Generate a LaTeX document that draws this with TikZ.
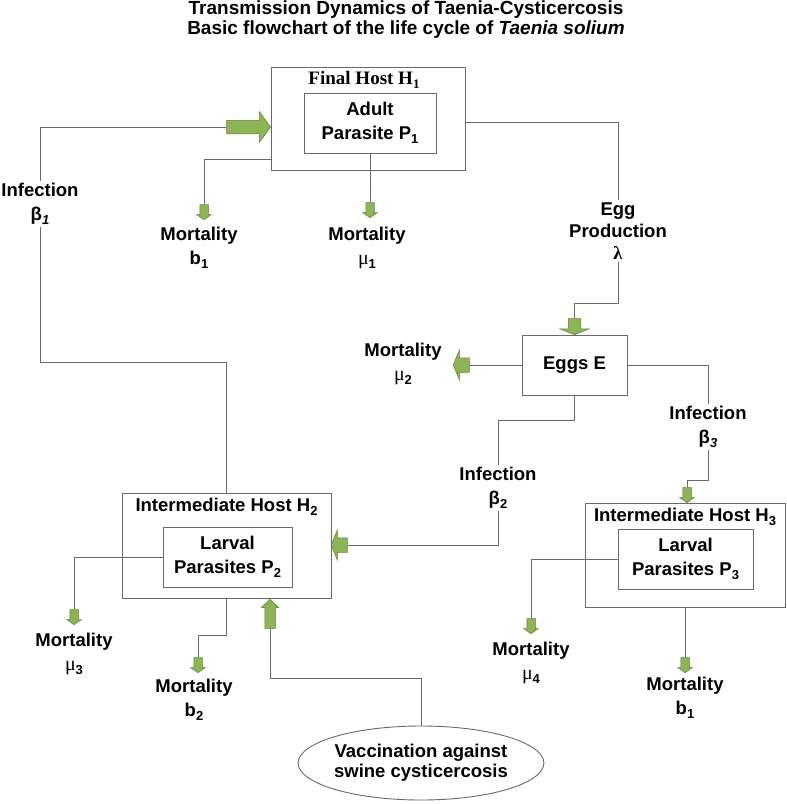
\documentclass[tikz,border=0pt]{standalone}
\usepackage{fontspec}
\setmainfont{Liberation Sans}
\newfontfamily\hostfont{Liberation Serif}
\usetikzlibrary{shapes.arrows,shapes.geometric,positioning}

\definecolor{leafgreen}{RGB}{141,180,86}
\definecolor{leafedge}{RGB}{92,128,48}
\definecolor{wire}{RGB}{105,105,105}
\newcommand{\lowidx}[1]{\raisebox{-0.45ex}{\fontsize{13}{13}\selectfont #1}}
\newcommand{\muchar}{{\hostfont\mdseries\fontsize{20}{20}\selectfont μ}}

\tikzset{
    box/.style={draw=wire, line width=0.9pt, fill=white, align=center, inner sep=0pt},
    lbl/.style={align=center, inner sep=2pt},
    blockarr/.style={single arrow, draw=leafedge, fill=leafgreen, line width=0.5pt, single arrow head indent=0pt},
    smallarr/.style={blockarr, inner xsep=4pt, inner ysep=0pt, single arrow head extend=3pt, minimum height=15pt, single arrow tip angle=110, shape border rotate=270},
    flatarr/.style={blockarr, inner xsep=0pt, inner ysep=7pt, single arrow head extend=8pt, minimum height=16pt, single arrow tip angle=136, shape border rotate=180},
}

\begin{document}
\begin{tikzpicture}[x=1pt, y=-1pt, font=\bfseries\fontsize{18.5}{24}\selectfont]
    \useasboundingbox (0,0) rectangle (787,804);
    \node[align=center, font=\bfseries\fontsize{19}{20}\selectfont] (title) at (406,20) {Transmission Dynamics of Taenia-Cysticercosis\\Basic flowchart of the life cycle of \textit{Taenia solium}};
    % final host
    \node[box, minimum width=194pt, minimum height=103pt] (host1) at (368,118.5) {};
    \node[anchor=north, font=\hostfont\bfseries\fontsize{19}{20}\selectfont] at ([xshift=-4pt, yshift=-1pt]host1.north) {Final Host H\lowidx{1}};
    \node[box, minimum width=132pt, minimum height=60pt] (par1) at (370,123) {Adult\\Parasite P\lowidx{1}};
    % eggs
    \node[box, minimum width=105pt, minimum height=60pt] (eggs) at (574.5,365) {Eggs E};
    % intermediate hosts
    \node[box, minimum width=209pt, minimum height=105pt] (host2) at (226.5,545.5) {};
    \node[anchor=north] at ([yshift=-2pt]host2.north) {Intermediate Host H\lowidx{2}};
    \node[box, minimum width=129pt, minimum height=60pt] (par2) at (227.5,557) {Larval\\Parasites P\lowidx{2}};
    \node[box, minimum width=200pt, minimum height=104pt] (host3) at (685,555) {};
    \node[anchor=north] at ([yshift=-2pt]host3.north) {Intermediate Host H\lowidx{3}};
    \node[box, minimum width=135pt, minimum height=60pt] (par3) at (685.5,559) {Larval\\Parasites P\lowidx{3}};
    \node[draw=wire, line width=0.9pt, ellipse, minimum width=240pt, minimum height=74pt, inner sep=0pt, align=center, font=\bfseries\fontsize{18.5}{20}\selectfont] (vacc) at (421,763) {Vaccination against\\swine cysticercosis};
    % labels
    \node[lbl] (inf1) at (40,204) {Infection\\β\lowidx{\itshape 1}};
    \node[lbl] (mb1lbl) at (199,248) {Mortality\\b\lowidx{1}};
    \node[lbl] (mu1lbl) at (367,248) {Mortality\\\muchar\lowidx{1}};
    \node[lbl, font=\bfseries\fontsize{18.5}{22}\selectfont] (egglbl) at (618,231) {Egg\\Production\\{\hostfont\bfseries λ}};
    \node[lbl] (mu2lbl) at (403,364) {Mortality\\\muchar\lowidx{2}};
    \node[lbl] (inf3lbl) at (708,427) {Infection\\β\lowidx{\itshape 3}};
    \node[lbl] (inf2lbl) at (498,488) {Infection\\β\lowidx{2}};
    \node[lbl] (mu3lbl) at (74,654) {Mortality\\\muchar\lowidx{3}};
    \node[lbl] (mb2lbl) at (194,700) {Mortality\\b\lowidx{2}};
    \node[lbl] (mu4lbl) at (531,663) {Mortality\\\muchar\lowidx{4}};
    \node[lbl] (mb3lbl) at (685,698) {Mortality\\b\lowidx{1}};
    % green arrows
    \node[blockarr, inner xsep=0pt, inner ysep=6.5pt, single arrow head extend=8.5pt, minimum height=44pt, single arrow tip angle=107, anchor=tip] (inarr) at (271,127) {};
    \node[smallarr, anchor=tip] (mb1arr) at (204,220) {};
    \node[smallarr, anchor=tip] (mu1arr) at (370,218) {};
    \node[flatarr, inner xsep=6pt, inner ysep=0pt, shape border rotate=270, anchor=tip] (eggin) at (574.5,335) {};
    \node[flatarr, anchor=tip] (mu2arr) at (453,365) {};
    \node[smallarr, anchor=tip] (h3in) at (687,503) {};
    \node[smallarr, anchor=tip] (mu4arr) at (531,634) {};
    \node[smallarr, anchor=tip] (mb3arr) at (685,673) {};
    \node[flatarr, anchor=tip] (h2in) at (331,545) {};
    \node[smallarr, anchor=tip] (mu3arr) at (74,625) {};
    \node[smallarr, anchor=tip] (mb2arr) at (198,673) {};
    \node[blockarr, inner xsep=5pt, inner ysep=0pt, single arrow head extend=3.5pt, minimum height=29pt, single arrow tip angle=93, shape border rotate=90, anchor=tip] (vacarr) at (270,599) {};
    % connectors
    \draw[wire, line width=0.9pt] (inf1.north) |- (inarr.tail);
    \draw[wire, line width=0.9pt] (inf1.south) -- (inf1.south |- 0,362) -| (host2.north);
    \draw[wire, line width=0.9pt] (host1.west |- 0,159) -| (mb1arr.tail);
    \draw[wire, line width=0.9pt] (par1.south) -- (mu1arr.tail);
    \draw[wire, line width=0.9pt] (host1.east |- 0,122) -| (egglbl.north);
    \draw[wire, line width=0.9pt] (egglbl.south) |- (eggin.tail |- 0,303) -- (eggin.tail);
    \draw[wire, line width=0.9pt] (eggs.west) -- (mu2arr.tail);
    \draw[wire, line width=0.9pt] (eggs.east) -| (inf3lbl.north);
    \draw[wire, line width=0.9pt] (inf3lbl.south) |- (h3in.tail |- 0,480) -- (h3in.tail);
    \draw[wire, line width=0.9pt] (eggs.south) |- (inf2lbl.north |- 0,420) -- (inf2lbl.north);
    \draw[wire, line width=0.9pt] (inf2lbl.south) |- (h2in.tail);
    \draw[wire, line width=0.9pt] (par3.west) -| (mu4arr.tail);
    \draw[wire, line width=0.9pt] (host3.south) -- (mb3arr.tail);
    \draw[wire, line width=0.9pt] (par2.west) -| (mu3arr.tail);
    \draw[wire, line width=0.9pt] (host2.south) |- (mb2arr.tail |- 0,635) -- (mb2arr.tail);
    \draw[wire, line width=0.9pt] (vacc.north) |- (vacarr.tail |- 0,678) -- (vacarr.tail);
\end{tikzpicture}
\end{document}
